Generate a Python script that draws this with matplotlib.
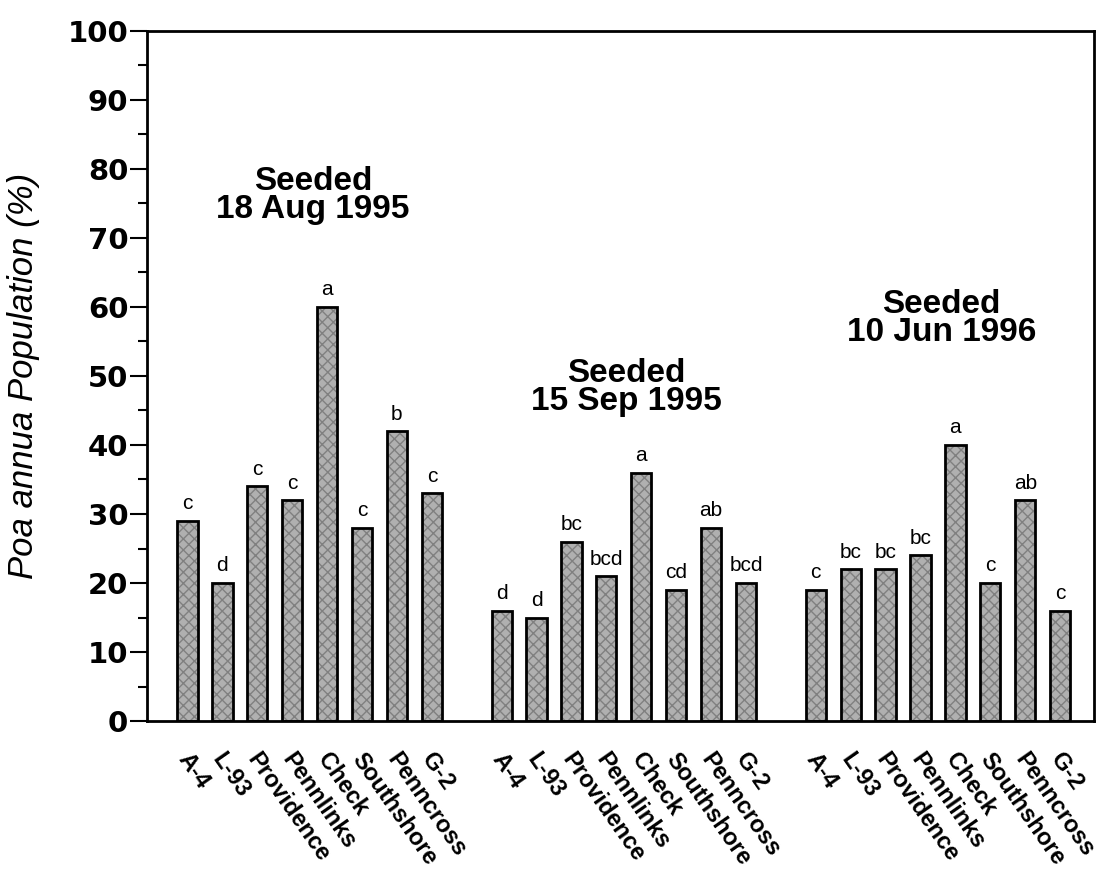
import numpy as np
import matplotlib
matplotlib.use('Agg')
import matplotlib.pyplot as plt
from matplotlib.ticker import MultipleLocator
from matplotlib.transforms import ScaledTranslation

plt.rcParams['font.family'] = ['Liberation Sans', 'DejaVu Sans']

# data
cultivars = ['A-4', 'L-93', 'Providence', 'Pennlinks', 'Check',
             'Southshore', 'Penncross', 'G-2']
seedings = ['Seeded\n18 Aug 1995', 'Seeded\n15 Sep 1995', 'Seeded\n10 Jun 1996']
aug95 = [29, 20, 34, 32, 60, 28, 42, 33]
sep95 = [16, 15, 26, 21, 36, 19, 28, 20]
jun96 = [19, 22, 22, 24, 40, 20, 32, 16]
aug95_sig = ['c', 'd', 'c', 'c', 'a', 'c', 'b', 'c']
sep95_sig = ['d', 'd', 'bc', 'bcd', 'a', 'cd', 'ab', 'bcd']
jun96_sig = ['c', 'bc', 'bc', 'bc', 'a', 'c', 'ab', 'c']

groups = [aug95, sep95, jun96]
sigs = [aug95_sig, sep95_sig, jun96_sig]

fig = plt.figure(figsize=(11.04, 8.72), dpi=100)
ax = fig.add_axes([147/1104, 1 - 721/872, 947/1104, 690/872])

w = 0.58
all_x = []
all_lab = []
for g, (vals, sg) in enumerate(zip(groups, sigs)):
    xs = np.arange(len(vals)) + g * 9
    # textured fill, then black outline on top
    ax.bar(xs, vals, width=w, color='#b0b0b0', edgecolor='#808080',
           hatch='xxx', linewidth=0, zorder=2)
    ax.bar(xs, vals, width=w, fill=False, edgecolor='black',
           linewidth=2, zorder=3)
    for x, v, s in zip(xs, vals, sg):
        ax.text(x, v + 1.1, s, ha='center', va='bottom', fontsize=15)
    all_x += list(xs)
    all_lab += cultivars

# seeding date captions
pos = [(3.6, 76.2), (12.56, 48.3), (21.6, 58.3)]
for (px, py), t in zip(pos, seedings):
    ax.text(px, py, t, ha='center', va='center', fontsize=24,
            fontweight='bold', linespacing=0.88)

ax.set_xlim(-1.16, 25.97)
ax.set_ylim(0, 100)
ax.yaxis.set_major_locator(MultipleLocator(10))
ax.yaxis.set_minor_locator(MultipleLocator(5))
ax.tick_params(axis='y', which='major', length=12, width=1.5, pad=1.5)
ax.tick_params(axis='y', which='minor', length=6.5, width=1.5)
for lab in ax.get_yticklabels():
    lab.set_fontfamily('DejaVu Sans')
    lab.set_fontweight('bold')
    lab.set_fontsize(21)

ax.set_xticks(all_x)
ax.set_xticklabels(all_lab, rotation=-55, ha='left', va='top',
                   rotation_mode='anchor', fontsize=17, fontweight='bold')
ax.tick_params(axis='x', length=0, pad=20)
shift = ScaledTranslation(3/72, 0, fig.dpi_scale_trans)
for lab in ax.get_xticklabels():
    lab.set_transform(lab.get_transform() + shift)

for sp in ax.spines.values():
    sp.set_linewidth(2)

ax.set_ylabel('Poa annua Population (%)', fontsize=25, style='italic')
ax.yaxis.set_label_coords(-0.113, 0.5)

fig.savefig('out.png', dpi=100)
